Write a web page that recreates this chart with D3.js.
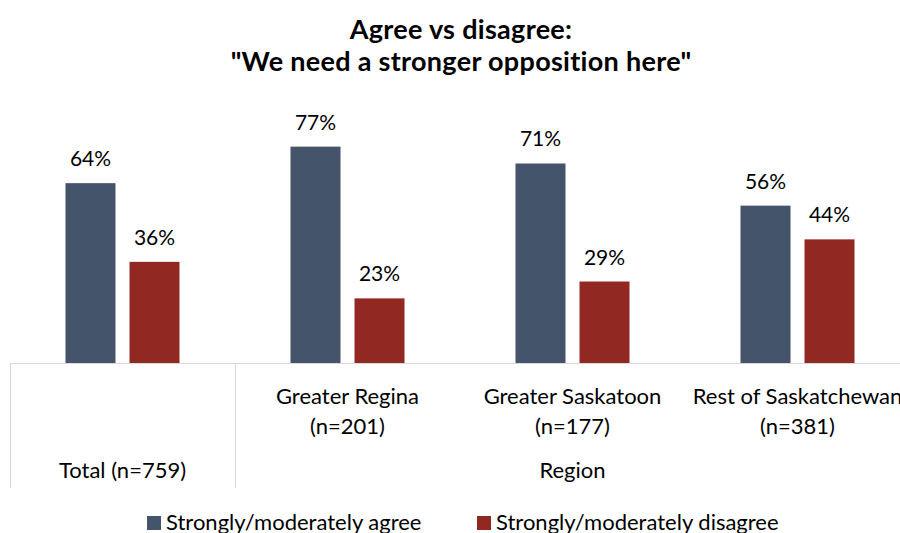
<!DOCTYPE html>
<html><head><meta charset="utf-8">
<script src="https://cdn.jsdelivr.net/npm/d3@7"></script>
<style>body{margin:0;background:#fff}text{font-family:Lato,"Open Sans",sans-serif;fill:#000}</style>
</head><body><svg id="c" width="900" height="533"></svg>
<script>
const categories = ["Total (n=759)", "Greater Regina", "Greater Saskatoon", "Rest of Saskatchewan"];
const categorySizes = ["", "(n=201)", "(n=177)", "(n=381)"];
const seriesNames = ["Strongly/moderately agree", "Strongly/moderately disagree"];
const agree = [64, 77, 71, 56];
const disagree = [36, 23, 29, 44];
const groupLabel = "Region";
const titleLines = ["Agree vs disagree:", "\"We need a stronger opposition here\""];
const colors = ["#44546A", "#922822"];

const svg = d3.select("#c");
const baseY = 363;
const x = d3.scaleBand().domain(categories).range([10, 910]).paddingInner(0).paddingOuter(0);
const xs = d3.scaleBand().domain(seriesNames).range([0, x.bandwidth()]).paddingInner(0.21875).paddingOuter(0.867);
const y = d3.scaleLinear().domain([0, 100]).range([baseY, baseY - 281]);

svg.selectAll(".title").data(titleLines).join("text")
  .attr("x", 461).attr("y", (d,i)=>39+i*32).attr("text-anchor","middle")
  .style("font-size","27px").style("font-weight","bold").style("letter-spacing","0.3px").text(d=>d);

const data = categories.map((c,i)=>({c, vals:[agree[i], disagree[i]]}));
const g = svg.selectAll(".cat").data(data).join("g").attr("transform", d=>`translate(${x(d.c)},0)`);
g.selectAll("rect").data(d=>d.vals.map((v,j)=>({v, s:seriesNames[j], j}))).join("rect")
  .attr("x", d=>xs(d.s)).attr("width", xs.bandwidth())
  .attr("y", d=>y(d.v)).attr("height", d=>baseY - y(d.v)).attr("fill", d=>colors[d.j]);
g.selectAll(".val").data(d=>d.vals.map((v,j)=>({v, s:seriesNames[j]}))).join("text")
  .attr("x", d=>xs(d.s)+xs.bandwidth()/2).attr("y", d=>y(d.v)-17).attr("text-anchor","middle")
  .style("font-size","21px").text(d=>d.v+"%");

// axis lines
svg.append("line").attr("x1",10).attr("x2",900).attr("y1",baseY+0.5).attr("y2",baseY+0.5).attr("stroke","#d9d9d9");
[x(categories[0]), x(categories[1])].forEach(px=>{
  svg.append("line").attr("x1",px+0.5).attr("x2",px+0.5).attr("y1",baseY).attr("y2",488).attr("stroke","#d9d9d9");
});

// category labels
categories.forEach((c,i)=>{
  const cx = x(c)+x.bandwidth()/2;
  if(i===0){
    svg.append("text").attr("x",cx).attr("y",478).attr("text-anchor","middle").style("font-size","22px").text(c);
  } else {
    svg.append("text").attr("x",cx).attr("y",404).attr("text-anchor","middle").style("font-size","22px").text(c);
    svg.append("text").attr("x",cx).attr("y",434).attr("text-anchor","middle").style("font-size","22px").text(categorySizes[i]);
  }
});
svg.append("text").attr("x",(x(categories[1])+910)/2).attr("y",478).attr("text-anchor","middle").style("font-size","22px").text(groupLabel);

// legend
const legX = [147, 477];
seriesNames.forEach((s,i)=>{
  svg.append("rect").attr("x",legX[i]).attr("y",516).attr("width",14).attr("height",14).attr("fill",colors[i]);
  svg.append("text").attr("x",legX[i]+19).attr("y",530).style("font-size","22px").text(s);
});
</script></body></html>
